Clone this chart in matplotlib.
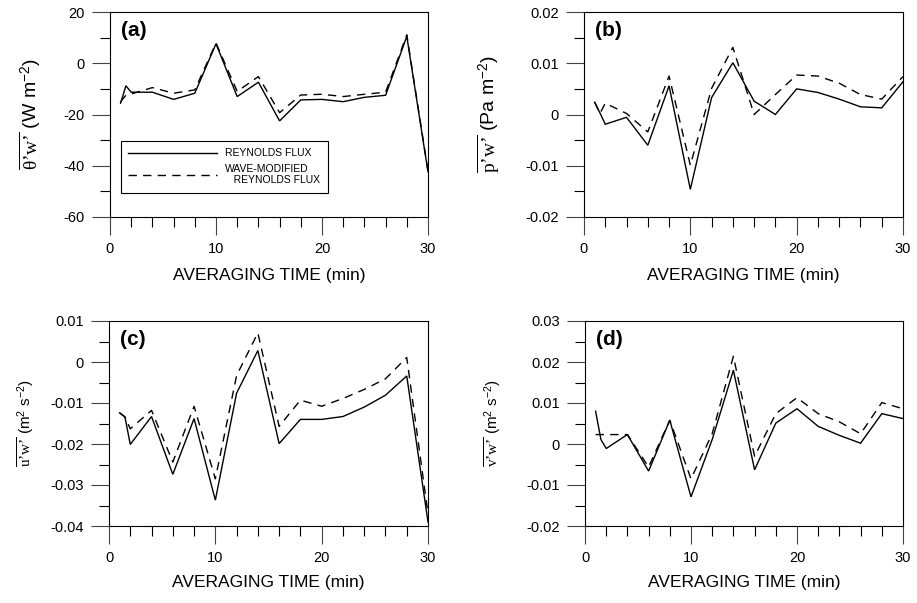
import matplotlib
matplotlib.use("Agg")
import matplotlib.pyplot as plt
from matplotlib.ticker import MultipleLocator, FixedLocator, FixedFormatter

plt.rcParams['font.family'] = ['Liberation Sans', 'DejaVu Sans']
plt.rcParams['axes.unicode_minus'] = False
plt.rcParams['mathtext.fontset'] = 'custom'
plt.rcParams['mathtext.rm'] = 'Liberation Serif'
plt.rcParams['mathtext.it'] = 'Liberation Serif:italic'
plt.rcParams['mathtext.sf'] = 'Liberation Sans'

# ---------------- data ----------------
avg_time = [1, 1.5, 2, 4, 6, 8, 10, 12, 14, 16, 18, 20, 22, 24, 26, 28, 30]

theta_rey = [-15.6, -8.8, -11.3, -11.3, -14.1, -11.7, 7.6, -13.0, -7.4, -22.5,
             -14.3, -14.1, -15.0, -13.3, -12.5, 10.5, -42.4]
theta_wave = [-15.0, -12.5, -12.0, -9.5, -11.7, -10.4, 7.9, -11.0, -5.2, -19.3,
              -12.4, -12.1, -13.0, -12.1, -11.3, 11.1, -42.0]

p_rey = [0.0024, 0.0003, -0.0019, -0.00055, -0.0060, 0.0056, -0.0146, 0.0033, 0.0101,
         0.0026, 0.0000, 0.0050, 0.0043, 0.0030, 0.0015, 0.0013, 0.0064]
p_wave = [0.0024, 0.0002, 0.0022, 0.0002, -0.0034, 0.0075, -0.0099, 0.0051, 0.0131,
          0.0000, 0.0039, 0.0077, 0.0075, 0.0061, 0.0039, 0.0030, 0.0074]

u_rey = [-0.0124, -0.0134, -0.0201, -0.0133, -0.0274, -0.0138, -0.0337, -0.0076, 0.0028,
         -0.0199, -0.0140, -0.0140, -0.0133, -0.0110, -0.0081, -0.0034, -0.0390]
u_wave = [-0.0124, -0.0134, -0.0163, -0.0118, -0.0244, -0.0108, -0.0285, -0.0033, 0.0071,
          -0.0157, -0.0093, -0.0108, -0.0089, -0.0067, -0.0041, 0.0011, -0.0370]

v_rey = [0.0080, 0.0011, -0.0011, 0.0023, -0.0066, 0.0058, -0.0129, 0.0011, 0.0180,
         -0.0063, 0.0051, 0.0086, 0.0043, 0.0021, 0.0002, 0.0074, 0.0062]
v_wave = [0.0023, 0.0023, 0.0023, 0.0023, -0.0056, 0.0058, -0.0085, 0.0025, 0.0214,
          -0.0030, 0.0074, 0.0113, 0.0074, 0.0054, 0.0025, 0.0101, 0.0086]

x_ticks = [0, 10, 20, 30]
x_ticklabels = ['0', '10', '20', '30']

a_yticks = [20, 0, -20, -40, -60]
a_yticklabels = ['20', '0', '-20', '-40', '-60']
b_yticks = [0.02, 0.01, 0, -0.01, -0.02]
b_yticklabels = ['0.02', '0.01', '0', '-0.01', '-0.02']
c_yticks = [0.01, 0, -0.01, -0.02, -0.03, -0.04]
c_yticklabels = ['0.01', '0', '-0.01', '-0.02', '-0.03', '-0.04']
d_yticks = [0.03, 0.02, 0.01, 0, -0.01, -0.02]
d_yticklabels = ['0.03', '0.02', '0.01', '0', '-0.01', '-0.02']

panel_letters = ['(a)', '(b)', '(c)', '(d)']
Q = '\u2019'
ylabels = ["$\\overline{\\mathrm{\\theta" + Q + "w" + Q + "}}$ (W m$^{\\mathsf{-2}}$)",
           "$\\overline{\\mathrm{p" + Q + "w" + Q + "}}$ (Pa m$^{\\mathsf{-2}}$)",
           "$\\overline{\\mathrm{u" + Q + "w" + Q + "}}$ (m$^{\\mathsf{2}}$ s$^{\\mathsf{-2}}$)",
           "$\\overline{\\mathrm{v" + Q + "w" + Q + "}}$ (m$^{\\mathsf{2}}$ s$^{\\mathsf{-2}}$)"]
xlabel = 'AVERAGING TIME (min)'
legend_labels = ['REYNOLDS FLUX', 'WAVE-MODIFIED\n   REYNOLDS FLUX']

# ---------------- figure ----------------
W, H = 917, 603
fig = plt.figure(figsize=(W / 100, H / 100), dpi=100)

def frac_rect(l, t, r, b):
    return [l / W, 1 - b / H, (r - l) / W, (b - t) / H]

rects = [frac_rect(110, 12, 428, 217), frac_rect(584, 12, 903, 217),
         frac_rect(109, 321, 428, 526), frac_rect(585, 321, 903, 526)]
ylims = [(-60, 20), (-0.02, 0.02), (-0.04, 0.01), (-0.02, 0.03)]
yminor = [10, 0.005, 0.005, 0.005]
yticks_all = [a_yticks, b_yticks, c_yticks, d_yticks]
yticklabels_all = [a_yticklabels, b_yticklabels, c_yticklabels, d_yticklabels]
series = [(theta_rey, theta_wave), (p_rey, p_wave), (u_rey, u_wave), (v_rey, v_wave)]
ylabel_x = [-0.25, -0.30, -0.26, -0.29]
ylabel_size = [14, 14, 11, 11]
xlabel_y = [-0.283, -0.283, -0.278, -0.278]

for i in range(4):
    ax = fig.add_axes(rects[i])
    rey, wave = series[i]
    l1, = ax.plot(avg_time, rey, color='black', lw=1.0, solid_joinstyle='miter')
    l2, = ax.plot(avg_time, wave, color='black', lw=1.0, linestyle=(0, (6, 4.5)))
    ax.set_xlim(0, 30)
    ax.set_ylim(*ylims[i])
    ax.xaxis.set_major_locator(FixedLocator(x_ticks))
    ax.xaxis.set_major_formatter(FixedFormatter(x_ticklabels))
    ax.xaxis.set_minor_locator(MultipleLocator(2))
    ax.yaxis.set_major_locator(FixedLocator(yticks_all[i]))
    ax.yaxis.set_major_formatter(FixedFormatter(yticklabels_all[i]))
    ax.yaxis.set_minor_locator(MultipleLocator(yminor[i]))
    ax.tick_params(which='major', direction='out', length=13, width=0.8,
                   labelsize=10.5, pad=5, color='#444444')
    ax.tick_params(which='minor', direction='out', length=7, width=0.8, color='black')
    for sp in ax.spines.values():
        sp.set_linewidth(0.8)
    ax.set_ylabel(ylabels[i], fontsize=ylabel_size[i], va='center')
    ax.yaxis.set_label_coords(ylabel_x[i], 0.5)
    ax.set_xlabel(xlabel, fontsize=12.5, va='center')
    ax.xaxis.set_label_coords(0.5, xlabel_y[i])
    ax.text(0.036, 0.955, panel_letters[i], transform=ax.transAxes,
            fontsize=15, fontweight='bold', ha='left', va='top')
    if i == 0:
        leg = ax.legend([l1, l2], legend_labels, loc='upper left',
                        bbox_to_anchor=(0.035, 0.37), fontsize=7.5,
                        handlelength=8.5, handletextpad=0.8, borderpad=0.7,
                        labelspacing=0.5, fancybox=False, framealpha=1,
                        edgecolor='black', borderaxespad=0)
        leg.get_frame().set_linewidth(0.8)

fig.savefig('out.png', dpi=100)
